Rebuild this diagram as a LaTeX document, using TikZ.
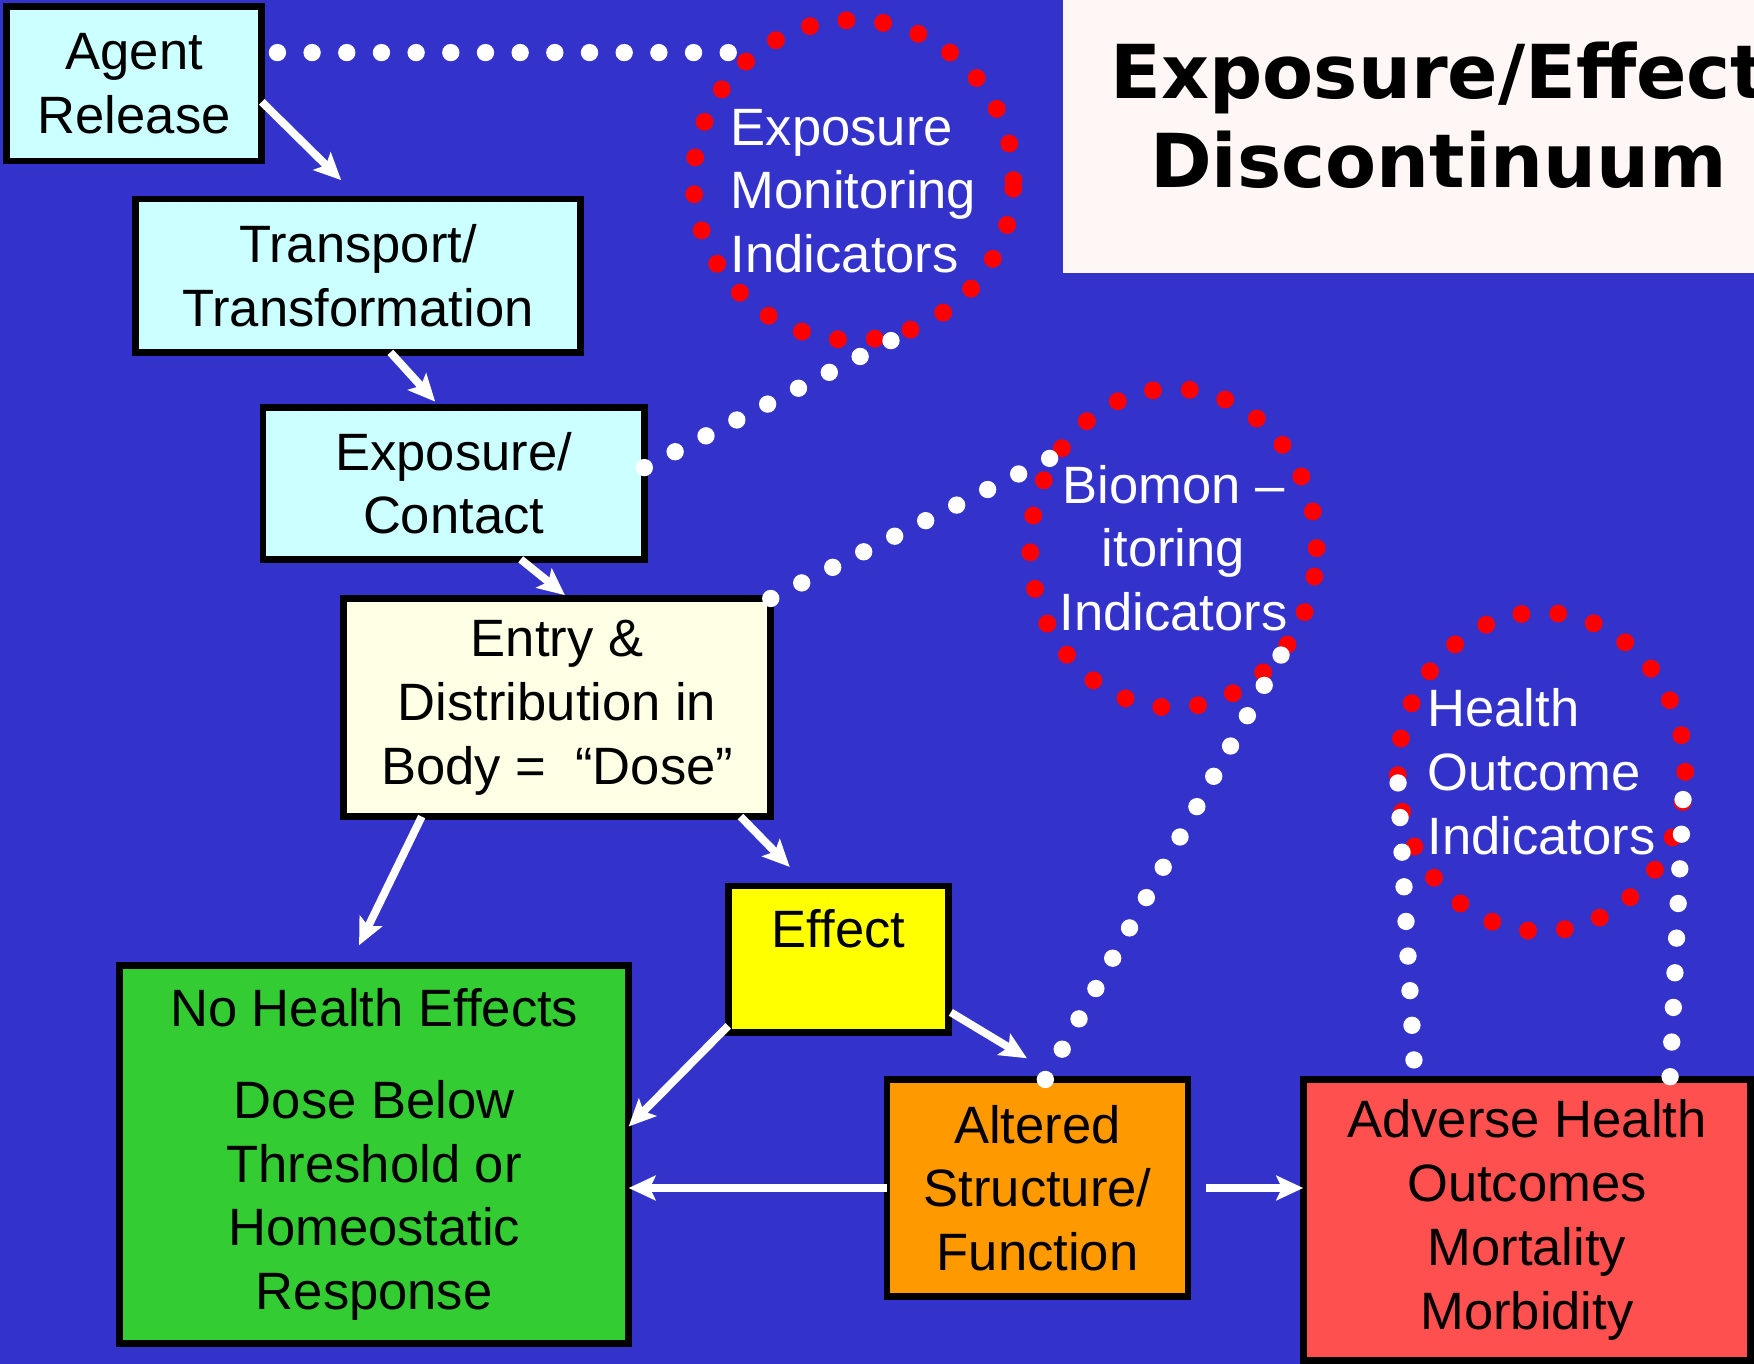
\documentclass[tikz,border=0pt]{standalone}
\usepackage{fontspec}
\setmainfont{Liberation Sans}
\newfontfamily\titlefont{DejaVu Sans}
\usetikzlibrary{arrows.meta,shapes.geometric}
\definecolor{slideblue}{RGB}{51,51,204}
\definecolor{titlebg}{RGB}{255,246,246}
\definecolor{paleblue}{RGB}{204,255,255}
\definecolor{ivory}{RGB}{255,255,230}
\definecolor{effectyellow}{RGB}{255,255,0}
\definecolor{nogreen}{RGB}{51,204,51}
\definecolor{altorange}{RGB}{255,153,0}
\definecolor{adversered}{RGB}{255,80,80}
\tikzstyle{stage}=[draw=black,line width=6pt,fill=#1,align=center,inner sep=0pt,outer sep=0pt,font=\fontsize{47}{57}\selectfont]
\tikzstyle{ring}=[draw=red,line width=16pt,line cap=round,dash pattern=on 0pt off 33pt,text=white,inner sep=-20pt,outer sep=0pt,font=\fontsize{47}{57}\selectfont]
\tikzstyle{whitedots}=[draw=white,line width=15.5pt,line cap=round,dash pattern=on 0pt off 31pt]
\newcommand{\stagebox}[6]{\node[stage=#1,minimum width=#2,minimum height=#3] (#4) at (#5) {#6};}
\newcommand{\myarrow}[2]{\draw[flow] (#1) -- (#2);}
\newcommand{\mydots}[2]{\draw[whitedots] (#1) -- (#2);}
\tikzset{
	flow/.style={draw=white,line width=7pt,-{Stealth[length=24pt,width=22pt,inset=5pt]}},
}

\begin{document}
\begin{tikzpicture}[x=1pt,y=-1pt]

    \useasboundingbox (0,0) rectangle (1568,1219);
    \fill[slideblue] (0,0) rectangle (1568,1219);
    \fill[titlebg] (950,0) rectangle (1568,244);
    \node[font=\titlefont\bfseries\fontsize{66.5}{80}\selectfont,align=center] (title) at (1286,103) {Exposure/Effect\\Discontinuum};

    \stagebox{paleblue}{228pt}{138pt}{agent}{120,75}{Agent\\Release}
    \stagebox{paleblue}{398pt}{137pt}{trans}{320,246.5}{Transport/\\Transformation}
    \stagebox{paleblue}{341pt}{136pt}{expo}{405.5,432}{Exposure/\\Contact}
    \stagebox{ivory}{382pt}{195pt}{entry}{498,632.5}{Entry \&\\Distribution in\\Body =\ \ “Dose”}
    \stagebox{effectyellow}{197pt}{131pt,text depth=55pt}{effect}{749.5,857.5}{Effect}
    \stagebox{nogreen}{455pt}{338pt}{nohealth}{334.5,1032}{No Health Effects\\[25pt]Dose Below\\Threshold or\\Homeostatic\\Response}
    \stagebox{altorange}{269pt}{194pt}{altered}{927.5,1062}{Altered\\Structure/\\Function}
    \stagebox{adversered}{400pt}{251pt}{adverse}{1365,1090.5}{Adverse Health\\Outcomes\\Mortality\\Morbidity}

    \node[ring,circle,minimum size=286pt,align=left,text height=166pt] (expmon) at (763,161) {Exposure\\Monitoring\\Indicators};
    \node[ring,ellipse,minimum width=256pt,minimum height=285pt,align=center] (biomon) at (1049,490) {Biomon –\\itoring\\Indicators};
    \node[ring,ellipse,minimum width=257pt,minimum height=285pt,align=left] (healthind) at (1378,690) {Health\\Outcome\\Indicators};

    \myarrow{[yshift=-16pt]agent.east}{[shift={(-15pt,17pt)}]trans.north}
    \myarrow{[xshift=29pt]trans.south}{[shift={(-16.5pt,5pt)}]expo.north}
    \myarrow{[xshift=60pt]expo.south}{[shift={(7pt,3pt)}]entry.north}
    \myarrow{[xshift=-121pt]entry.south}{[shift={(-13.5pt,18pt)}]nohealth.north}
    \myarrow{[xshift=164pt]entry.south}{[shift={(-43.5pt,17pt)}]effect.north}
    \myarrow{[yshift=6pt]effect.south west}{[yshift=25pt]nohealth.east}
    \myarrow{[shift={(2pt,18pt)}]effect.south east}{[shift={(-9.5pt,19pt)}]altered.north}
    \myarrow{altered.west}{nohealth.east |- altered.west}
    \myarrow{[xshift=16pt]altered.east}{adverse.west |- altered.east}

    \coordinate (agentdots) at ([shift={(14pt,28pt)}]agent.east);
    \mydots{agentdots}{agentdots -| expmon.137}
    \mydots{[yshift=14pt]expo.east}{expmon.-65}
    \mydots{entry.north east}{biomon.141}
    \mydots{[xshift=7pt]altered.north}{biomon.-42}
    \mydots{[shift={(99pt,17.5pt)}]adverse.north west}{healthind.184}
    \mydots{[shift={(-72pt,2.5pt)}]adverse.north east}{healthind.-11}
\end{tikzpicture}
\end{document}
